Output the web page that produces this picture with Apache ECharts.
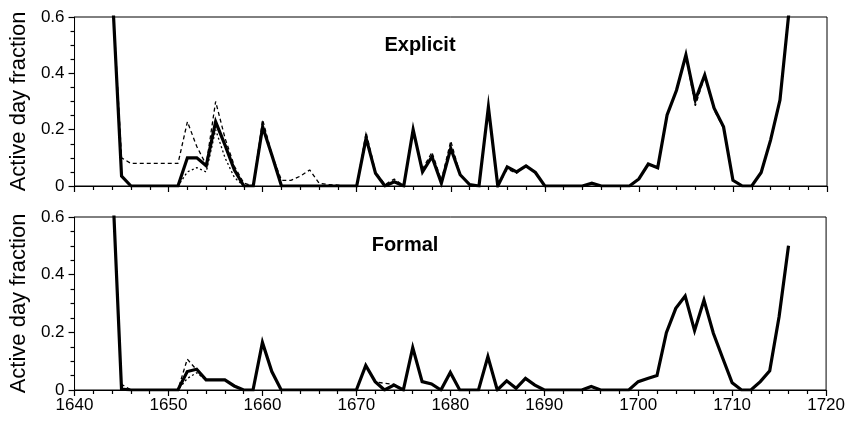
<!DOCTYPE html>
<html>
<head>
<meta charset="utf-8">
<script src="https://cdn.jsdelivr.net/npm/echarts@6/dist/echarts.min.js"></script>
<style>
  html, body { margin: 0; padding: 0; background: #fff; }
  #chart { width: 848px; height: 421px; }
</style>
</head>
<body>
<div id="chart"></div>
<script>
// years shown in both panels
const years = [
  1644, 1645, 1646, 1647, 1648, 1649, 1650, 1651, 1652, 1653,
  1654, 1655, 1656, 1657, 1658, 1659, 1660, 1661, 1662, 1663,
  1664, 1665, 1666, 1667, 1668, 1669, 1670, 1671, 1672, 1673,
  1674, 1675, 1676, 1677, 1678, 1679, 1680, 1681, 1682, 1683,
  1684, 1685, 1686, 1687, 1688, 1689, 1690, 1691, 1692, 1693,
  1694, 1695, 1696, 1697, 1698, 1699, 1700, 1701, 1702, 1703,
  1704, 1705, 1706, 1707, 1708, 1709, 1710, 1711, 1712, 1713,
  1714, 1715, 1716
];

// top panel (Explicit)
const explicitSolid = [
  0.70, 0.035, 0, 0, 0, 0, 0, 0, 0.10, 0.10,
  0.072, 0.228, 0.145, 0.057, 0, 0, 0.21, 0.107, 0, 0,
  0, 0, 0, 0, 0, 0, 0, 0.17, 0.045, 0,
  0.015, 0, 0.2, 0.05, 0.104, 0.01, 0.134, 0.04, 0.005, 0,
  0.28, 0, 0.068, 0.05, 0.071, 0.048, 0, 0, 0, 0,
  0, 0.01, 0, 0, 0, 0, 0.025, 0.078, 0.065, 0.252,
  0.34, 0.465, 0.305, 0.394, 0.276, 0.21, 0.02, 0, 0, 0.048,
  0.163, 0.305, 0.633
];
const explicitDashed = [
  0.70, 0.10, 0.08, 0.08, 0.08, 0.08, 0.08, 0.08, 0.228, 0.14,
  0.075, 0.30, 0.17, 0.07, 0.01, 0, 0.235, 0.11, 0.02, 0.02,
  0.035, 0.057, 0.01, 0.005, 0.003, 0, 0, 0.19, 0.05, 0.005,
  0.025, 0, 0.2, 0.06, 0.12, 0.02, 0.16, 0.04, 0.005, 0,
  0.28, 0, 0.06, 0.045, 0.075, 0.045, 0, 0, 0, 0,
  0, 0.01, 0, 0, 0, 0, 0.025, 0.075, 0.065, 0.25,
  0.34, 0.46, 0.285, 0.39, 0.27, 0.205, 0.02, 0, 0, 0.045,
  0.16, 0.30, 0.633
];
const explicitDotted = [
  0.70, 0.035, 0, 0, 0, 0, 0, 0, 0.05, 0.065,
  0.05, 0.20, 0.10, 0.03, 0, 0, 0.21, 0.107, 0, 0,
  0, 0, 0, 0, 0, 0, 0, 0.17, 0.045, 0,
  0.015, 0, 0.2, 0.05, 0.104, 0.01, 0.134, 0.04, 0.005, 0,
  0.28, 0, 0.068, 0.05, 0.071, 0.048, 0, 0, 0, 0,
  0, 0.01, 0, 0, 0, 0, 0.025, 0.078, 0.065, 0.252,
  0.34, 0.465, 0.305, 0.394, 0.276, 0.21, 0.02, 0, 0, 0.048,
  0.163, 0.305, 0.633
];

// bottom panel (Formal)
const formalSolid = [
  0.75, 0.003, 0, 0, 0, 0, 0, 0, 0.064, 0.072,
  0.035, 0.035, 0.035, 0.014, 0, 0, 0.165, 0.064, 0, 0,
  0, 0, 0, 0, 0, 0, 0, 0.085, 0.029, 0,
  0.017, 0, 0.147, 0.029, 0.021, 0, 0.061, 0, 0, 0,
  0.116, 0, 0.032, 0.006, 0.04, 0.017, 0, 0, 0, 0,
  0, 0.012, 0, 0, 0, 0, 0.029, 0.04, 0.05, 0.199,
  0.283, 0.326, 0.206, 0.312, 0.197, 0.11, 0.025, 0, 0, 0.029,
  0.067, 0.255, 0.5
];
const formalDashed = [
  0.75, 0.02, 0, 0, 0, 0, 0, 0, 0.107, 0.07,
  0.035, 0.035, 0.035, 0.014, 0, 0, 0.165, 0.064, 0, 0,
  0, 0, 0, 0, 0, 0, 0, 0.085, 0.029, 0.023,
  0.02, 0, 0.147, 0.029, 0.021, 0, 0.061, 0, 0, 0,
  0.116, 0, 0.032, 0.006, 0.04, 0.017, 0, 0, 0, 0,
  0, 0.012, 0, 0, 0, 0, 0.029, 0.04, 0.05, 0.199,
  0.283, 0.326, 0.206, 0.312, 0.197, 0.11, 0.025, 0, 0, 0.029,
  0.067, 0.255, 0.5
];
const formalDotted = [
  0.75, 0.003, 0, 0, 0, 0, 0, 0, 0.04, 0.06,
  0.035, 0.035, 0.035, 0.014, 0, 0, 0.165, 0.064, 0, 0,
  0, 0, 0, 0, 0, 0, 0, 0.085, 0.029, 0,
  0.017, 0, 0.147, 0.029, 0.021, 0, 0.061, 0, 0, 0,
  0.116, 0, 0.032, 0.006, 0.04, 0.017, 0, 0, 0, 0,
  0, 0.012, 0, 0, 0, 0, 0.029, 0.04, 0.05, 0.199,
  0.283, 0.326, 0.206, 0.312, 0.197, 0.11, 0.025, 0, 0, 0.029,
  0.067, 0.255, 0.5
];

const panelTitles = ['Explicit', 'Formal'];
const yAxisName = 'Active day fraction';

const FONT = '"Liberation Sans", Arial, Helvetica, sans-serif';

function pairs(values) {
    return years.map((y, i) => [y, values[i]]);
}

function xAxisFor(gridIndex, showLabels) {
    return {
        type: 'value',
        gridIndex: gridIndex,
        min: 1640,
        max: 1720,
        interval: 10,
        axisLine: {lineStyle: {color: '#000', width: 1}},
        axisTick: {show: true, length: 6, lineStyle: {color: '#000', width: 1.2}},
        minorTick: {show: true, splitNumber: 5, length: 4, lineStyle: {color: '#000', width: 1.2}},
        axisLabel: {
            show: showLabels, color: '#000', fontSize: 17, fontFamily: FONT, margin: 7,
            formatter: (v) => String(v)
        },
        splitLine: {show: false}
    };
}

function yAxisFor(gridIndex) {
    return {
        type: 'value',
        gridIndex: gridIndex,
        min: 0,
        max: 0.6,
        interval: 0.2,
        name: yAxisName,
        nameLocation: 'middle',
        nameRotate: 90,
        nameGap: 40,
        nameTextStyle: {color: '#000', fontSize: 22, fontFamily: FONT},
        axisLine: {show: true, lineStyle: {color: '#000', width: 1}},
        axisTick: {show: true, length: 6, lineStyle: {color: '#000', width: 1.2}},
        minorTick: {show: true, splitNumber: 4, length: 4, lineStyle: {color: '#000', width: 1.2}},
        axisLabel: {
            color: '#000', fontSize: 17, fontFamily: FONT, margin: 10,
            formatter: (v) => v === 0 ? '0' : v.toFixed(1)
        },
        splitLine: {show: false}
    };
}

function lineSeries(values, gridIndex, style) {
    return {
        type: 'line',
        xAxisIndex: gridIndex,
        yAxisIndex: gridIndex,
        data: pairs(values),
        symbol: 'none',
        clip: true,
        silent: true,
        lineStyle: style
    };
}

const thick = {color: '#000', width: 3.2, type: 'solid', join: 'miter'};
const dashed = {color: '#000', width: 1.3, type: [4, 3]};
const dotted = {color: '#000', width: 1.3, type: [2, 2.5]};

const chart = echarts.init(document.getElementById('chart'), null, {renderer: 'canvas'});
chart.setOption({
    animation: false,
    backgroundColor: '#fff',
    grid: [
        {left: 74, top: 17, width: 753, height: 169, show: true, borderColor: '#000', borderWidth: 1, backgroundColor: 'transparent'},
        {left: 74, top: 217, width: 753, height: 173, show: true, borderColor: '#000', borderWidth: 1, backgroundColor: 'transparent'}
    ],
    xAxis: [xAxisFor(0, false), xAxisFor(1, true)],
    yAxis: [yAxisFor(0), yAxisFor(1)],
    graphic: [
        {type: 'text', x: 420, y: 45, style: {text: panelTitles[0], font: 'bold 20px ' + FONT, fill: '#000', align: 'center', verticalAlign: 'middle'}},
        {type: 'text', x: 405, y: 245, style: {text: panelTitles[1], font: 'bold 20px ' + FONT, fill: '#000', align: 'center', verticalAlign: 'middle'}}
    ],
    series: [
        lineSeries(explicitDashed, 0, dashed),
        lineSeries(explicitDotted, 0, dotted),
        lineSeries(explicitSolid, 0, thick),
        lineSeries(formalDashed, 1, dashed),
        lineSeries(formalDotted, 1, dotted),
        lineSeries(formalSolid, 1, thick)
    ]
});
</script>
</body>
</html>
